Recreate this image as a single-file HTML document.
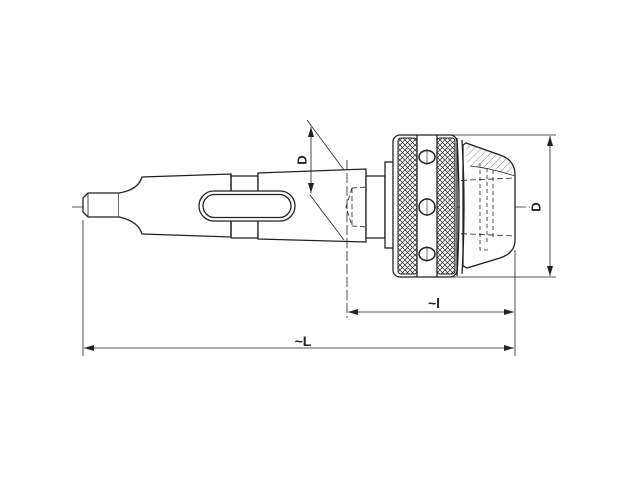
<!DOCTYPE html>
<html><head><meta charset="utf-8"><style>
html,body{margin:0;padding:0;background:#fff;}
svg{display:block}
text{font-family:"Liberation Sans",sans-serif;font-weight:bold;fill:#222}
</style></head><body>
<svg width="640" height="480" viewBox="0 0 640 480" xmlns="http://www.w3.org/2000/svg">
<defs>
<pattern id="kn" width="5" height="5" patternUnits="userSpaceOnUse">
<rect width="5" height="5" fill="#fff"/>
<path d="M0,0 L5,5 M5,0 L0,5" stroke="#222" stroke-width="0.7"/>
</pattern>
<pattern id="hat" width="5" height="5" patternUnits="userSpaceOnUse" patternTransform="rotate(45)">
<line x1="0" y1="0" x2="0" y2="5" stroke="#555" stroke-width="0.7"/>
</pattern>
<marker id="ar" markerWidth="10" markerHeight="6" refX="10" refY="3" orient="auto" markerUnits="userSpaceOnUse">
<path d="M0,0 L10,3 L0,6 Z" fill="#222"/>
</marker>
</defs>
<g fill="none" stroke="#222" stroke-width="1.3">
<!-- centerline -->
<line x1="72" y1="207" x2="530" y2="207" stroke-width="0.7" stroke-dasharray="14,3,2,3"/>
<!-- pilot -->
<path d="M119,193 L88,193 L83,198 L83,212 L88,217 L119,217 Z" fill="#fff"/>
<line x1="88" y1="193" x2="88" y2="217" stroke-width="0.8"/>
<!-- taper shank -->
<path d="M119,193 Q138,190 142,177 L231,174 L231,237 L142,234 Q138,221 119,217" fill="#fff"/>
<path d="M231,176 L258,176 M231,238 L258,238" />
<path d="M231,174 L231,192 M258,173 L258,192 M231,220 L231,238 M258,220 L258,239"/>
<!-- sleeve -->
<path d="M258,173 L366,169 L366,242 L258,239 Z" fill="#fff"/>
<!-- slot -->
<rect x="199" y="191" width="96" height="30" rx="15" fill="#fff"/>
<rect x="203" y="194.5" width="88" height="23" rx="11.5"/>
<!-- hidden lines -->
<path d="M352,188 L384,186 M352,226 L384,228 M352,188 L346,207 L352,226 M352,188 L352,226" stroke-dasharray="5,3" stroke-width="0.8"/>
<!-- neck and collar -->
<path d="M366,176 L385,176 L385,238 L366,238 Z" fill="#fff"/>
<rect x="385" y="162" width="13" height="86" fill="#fff"/>
<!-- nose -->
<path d="M463,145 L466,143 L500,155 Q515,160 515,175 L515,240 Q515,253 500,258 L467,268 L463,266 Z" fill="#fff"/>
<path d="M466,144 L500,155 Q514,160 515,172 L505,174 Q490,168 470,166 L466,160 Z" fill="url(#hat)" stroke="none"/>
<path d="M470,166 Q490,168 515,176" stroke-width="0.7"/>
<path d="M398,184 L470,180 L515,178 M398,232 L470,234 L515,236" stroke-dasharray="6,3" stroke-width="0.8"/>
<path d="M480,163 L480,250 L488,250 M487,168 L487,245 M493,170 L493,240" stroke-dasharray="4,3" stroke-width="0.8"/>
<path d="M457,138 Q461,207 457,276 M462,140 Q466,207 462,274" />
<!-- body -->
<rect x="393" y="135" width="64" height="142" rx="7" fill="#fff"/>
<rect x="398" y="138" width="19" height="136" rx="3" fill="url(#kn)" stroke="#222" stroke-width="1"/>
<rect x="437" y="138" width="18" height="136" rx="3" fill="url(#kn)" stroke="#222" stroke-width="1"/>
<line x1="417" y1="135" x2="417" y2="277"/><line x1="437" y1="135" x2="437" y2="277"/>
<g fill="#fff" stroke-width="1.5">
<ellipse cx="427" cy="157" rx="8" ry="6.5"/><ellipse cx="427" cy="207" rx="8" ry="8"/><ellipse cx="427" cy="254" rx="8" ry="6.5"/>
</g>
<path d="M427,149 L427,165 M427,198 L427,216 M427,246 L427,262" stroke-width="0.6"/>
<!-- D left dim -->
<g stroke-width="0.8">
<line x1="307" y1="120" x2="344" y2="170"/>
<line x1="310" y1="195" x2="344" y2="240"/>
<line x1="311" y1="140" x2="311" y2="127" marker-end="url(#ar)"/>
<line x1="311" y1="180" x2="311" y2="193" marker-end="url(#ar)"/>
<line x1="311" y1="140" x2="311" y2="180"/>
<line x1="347" y1="160" x2="347" y2="318" stroke-dasharray="10,3"/>
<!-- D right dim -->
<line x1="440" y1="135" x2="556" y2="135"/>
<line x1="440" y1="277" x2="556" y2="277"/>
<line x1="550" y1="160" x2="550" y2="136" marker-end="url(#ar)"/>
<line x1="550" y1="250" x2="550" y2="276" marker-end="url(#ar)"/>
<line x1="550" y1="160" x2="550" y2="250"/>
<!-- l dim -->
<line x1="515" y1="250" x2="515" y2="356"/>
<line x1="430" y1="312" x2="348" y2="312" marker-end="url(#ar)"/>
<line x1="430" y1="312" x2="514" y2="312" marker-end="url(#ar)"/>
<!-- L dim -->
<line x1="83" y1="220" x2="83" y2="356"/>
<line x1="300" y1="348" x2="84" y2="348" marker-end="url(#ar)"/>
<line x1="300" y1="348" x2="514" y2="348" marker-end="url(#ar)"/>
</g>
</g>
<text x="303" y="160" font-size="13" transform="rotate(-90 303 160)" text-anchor="middle" dominant-baseline="middle">D</text>
<text x="537" y="207" font-size="13" transform="rotate(-90 537 207)" text-anchor="middle" dominant-baseline="middle">D</text>
<text x="434" y="308" font-size="14" text-anchor="middle">~l</text>
<text x="303" y="346" font-size="14" text-anchor="middle">~L</text>
</svg>
</body></html>
